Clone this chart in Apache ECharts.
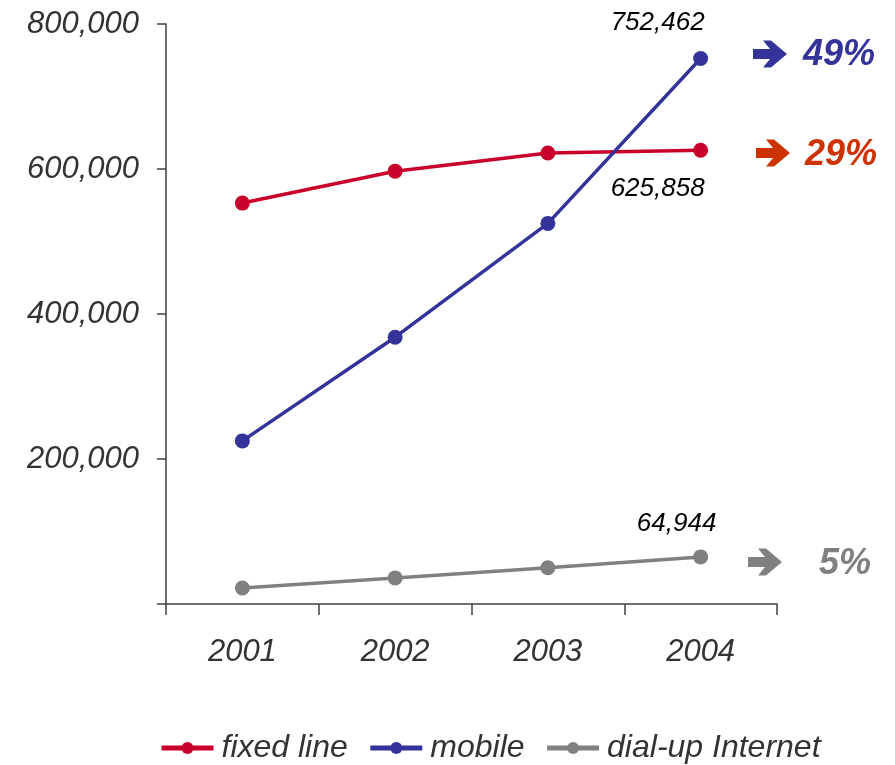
<!DOCTYPE html>
<html><head><meta charset="utf-8">
<script src="https://cdn.jsdelivr.net/npm/echarts@6/dist/echarts.min.js"></script>
<style>html,body{margin:0;padding:0;background:#fff}#c{width:895px;height:765px}</style>
</head><body><div id="c"></div>
<script>
var years = ['2001', '2002', '2003', '2004'];
var fixedLine = [553000, 597000, 622000, 625858];
var mobile = [225000, 368000, 525000, 752462];
var dialup = [22000, 36000, 50000, 64944];
var yTicks = [0, 200000, 400000, 600000, 800000];
var growth = {fixed: '29%', mobile: '49%', dialup: '5%'};

var chart = echarts.init(document.getElementById('c'));
var FONT = 'Liberation Sans, Arial, sans-serif';
function fmt(v){ return v.toString().replace(/\B(?=(\d{3})+(?!\d))/g, ','); }
function lastLabel(p){ return p.dataIndex === years.length - 1 ? fmt(p.value) : ''; }
function mk(name, data, color, pos, off){
  return {
    name: name, type: 'line', data: data,
    symbol: 'circle', symbolSize: 15,
    lineStyle: {color: color, width: 3.5},
    itemStyle: {color: color},
    label: {show: true, position: pos, offset: off, formatter: lastLabel,
      fontFamily: FONT, fontStyle: 'italic', fontSize: 26, color: '#000'}
  };
}
function arrow(cx, cy, color){
  var pts = [[0,-5],[17,-5],[10,-13.5],[18,-13.5],[34,0],[18,13.5],[10,13.5],[17,5],[0,5]];
  return {type: 'polygon', shape: {points: pts.map(function(p){return [cx + p[0], cy + p[1]];})},
    style: {fill: color}};
}
function pct(x, y, text, color){
  return {type: 'text', x: x, y: y, style: {text: text, fill: color, font: 'italic bold 36px ' + FONT,
    textVerticalAlign: 'middle', verticalAlign: 'middle'}};
}
chart.setOption({
  animation: false,
  grid: {left: 166, right: 118, top: 24, bottom: 161, containLabel: false},
  xAxis: {
    type: 'category', data: years, boundaryGap: true,
    axisLine: {lineStyle: {color: '#404040', width: 1.5}},
    axisTick: {show: true, inside: false, length: 11, lineStyle: {color: '#404040', width: 1.5}},
    axisLabel: {margin: 33, fontFamily: FONT, fontStyle: 'italic', fontSize: 31, color: '#333'},
    splitLine: {show: false}
  },
  yAxis: {
    type: 'value', min: yTicks[0], max: yTicks[yTicks.length - 1], interval: 200000,
    axisLine: {show: true, lineStyle: {color: '#404040', width: 1.5}},
    axisTick: {show: true, length: 9, lineStyle: {color: '#404040', width: 1.5}},
    axisLabel: {margin: 27, fontFamily: FONT, fontStyle: 'italic', fontSize: 31, color: '#333',
      formatter: function(v){ return v === 0 ? '' : fmt(v); }},
    splitLine: {show: false}
  },
  legend: {
    bottom: -4, left: 154, itemWidth: 52, itemHeight: 15, itemGap: 20,
    lineStyle: {width: 5},
    textStyle: {fontFamily: FONT, fontStyle: 'italic', fontSize: 32, color: '#333', padding: [0,0,0,3]},
    data: ['fixed line', 'mobile', 'dial-up Internet']
  },
  series: [
    mk('fixed line', fixedLine, '#C8002A', 'bottom', [-43, 13]),
    mk('mobile', mobile, '#333399', 'top', [-43, -10]),
    mk('dial-up Internet', dialup, '#808080', 'top', [-24, -8])
  ],
  graphic: [
    arrow(753, 54, '#333399'), pct(803, 55, growth.mobile, '#333399'),
    arrow(756, 153, '#CC3300'), pct(805, 155, growth.fixed, '#CC3300'),
    arrow(748, 562, '#808080'), pct(819, 564, growth.dialup, '#808080')
  ]
});
</script></body></html>
